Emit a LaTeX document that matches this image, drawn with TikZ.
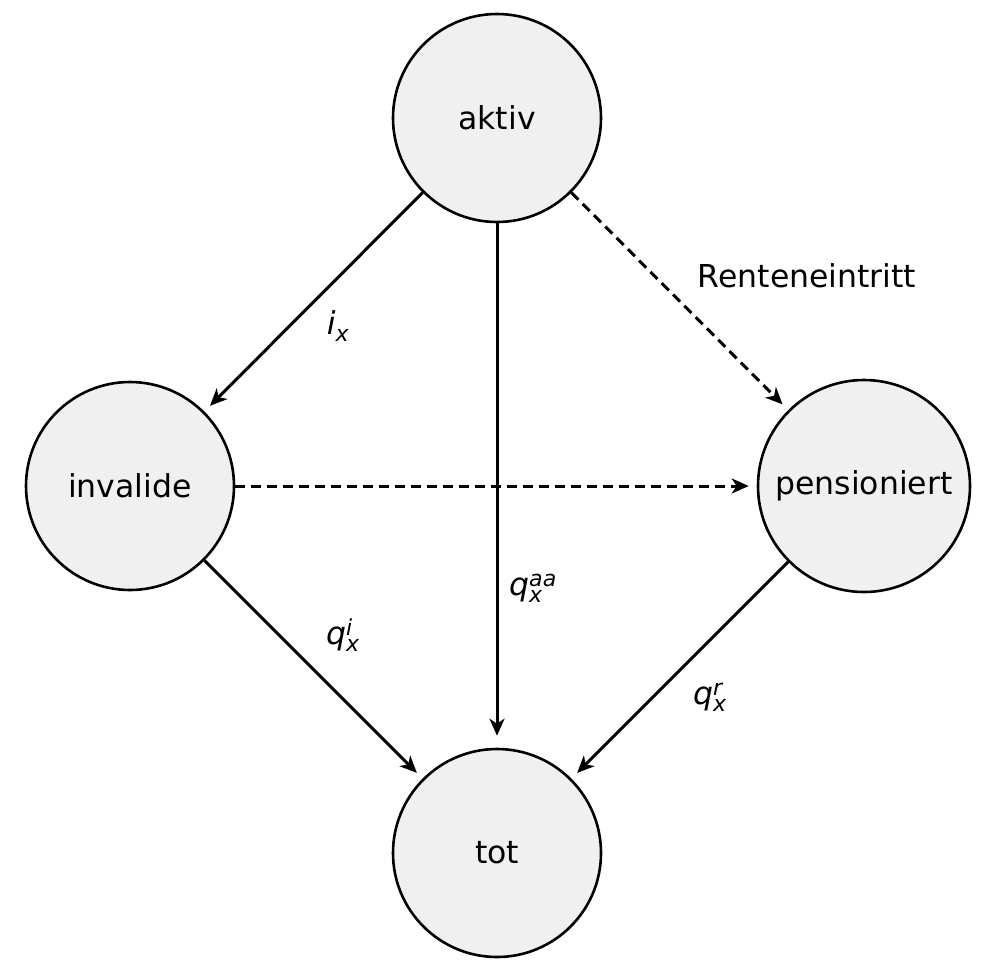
\documentclass[tikz,border=0pt]{standalone}
\usepackage{amsmath}
\usepackage{fontspec}
\setmainfont{DejaVu Sans}
\usetikzlibrary{arrows.meta}
\definecolor{statefill}{HTML}{F0F0F0}
\newcommand{\mylbl}[3]{{\itshape #1}$^{\text{\itshape #3}}_{\text{\itshape #2}}$}
\begin{document}
\begin{tikzpicture}[x=1pt,y=-1pt,
  state/.style={circle,draw=black,line width=2.6pt,fill=statefill,minimum size=208pt,inner sep=0pt,font=\fontsize{31.5}{38}\selectfont},
  conn/.style={line width=3pt,-{Stealth[length=17pt,width=15pt,inset=5pt]},shorten >=8pt},
  dconn/.style={conn,dash pattern=on 10pt off 6pt},
  lbl/.style={font=\fontsize{31.5}{38}\selectfont,inner sep=0pt}]
\useasboundingbox (0,0) rectangle (992,972);
\node[state] (aktiv) at (497,118) {aktiv};
\node[state] (inv) at (130,486) {invalide};
\node[state,minimum size=212pt] (pens) at (864,486) {pensioniert};
\node[state] (tot) at (497,853) {tot};
\draw[conn] (aktiv) -- (inv);
\draw[conn,shorten >=12pt] (aktiv) -- (tot);
\draw[dconn] (aktiv) -- (pens);
\draw[dconn] (inv) -- (pens);
\draw[conn] (inv) -- (tot);
\draw[conn] (pens) -- (tot);
\node[lbl] (lix) at (338,326) {\mylbl{i}{x}{}};
\node[lbl] (lqaa) at (533,588) {\mylbl{q}{x}{aa}};
\node[lbl] (lqi) at (343,635) {\mylbl{q}{x}{i}};
\node[lbl] (lqr) at (710,697) {\mylbl{q}{x}{r}};
\node[lbl] (lrent) at (807,276) {Renteneintritt};
\end{tikzpicture}
\end{document}
